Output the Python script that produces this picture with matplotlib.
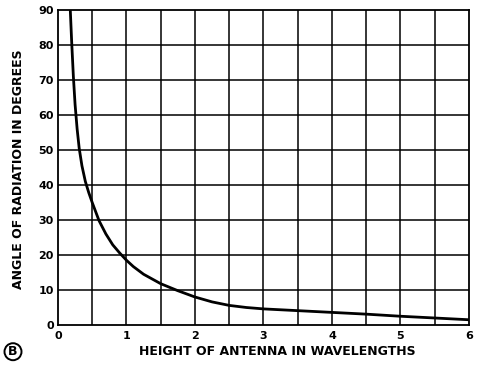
import matplotlib
matplotlib.use("Agg")
import matplotlib.pyplot as plt
from matplotlib.patches import Circle

# Data
height = [0.18, 0.20, 0.225, 0.25, 0.28, 0.31, 0.35, 0.40, 0.45, 0.5, 0.6, 0.7,
          0.8, 0.9, 1.0, 1.1, 1.25, 1.5, 1.75, 2.0, 2.25, 2.5, 2.75, 3.0, 3.5,
          4.0, 4.5, 5.0, 5.5, 6.0]
angle = [90, 81, 71, 63, 56, 50.5, 45.5, 41, 37.8, 35, 29.8, 26,
         22.9, 20.6, 18.5, 16.7, 14.5, 11.8, 9.8, 8.0, 6.6, 5.6, 5.0, 4.6, 4.1,
         3.6, 3.1, 2.5, 2.0, 1.5]
x_ticks = [0, 1, 2, 3, 4, 5, 6]
y_ticks = [0, 10, 20, 30, 40, 50, 60, 70, 80, 90]
x_label = "HEIGHT OF ANTENNA IN WAVELENGTHS"
y_label = "ANGLE OF RADIATION IN DEGREES"

fig = plt.figure(figsize=(4.79, 3.71), dpi=100)
ax = fig.add_axes([0.121, 0.124, 0.858, 0.849])

ax.set_xlim(0, 6)
ax.set_ylim(0, 90)

# grid lines every 0.5 in x and every 10 in y
for gx in [i * 0.5 for i in range(1, 12)]:
    ax.axvline(gx, color="black", lw=1.1, zorder=1)
for gy in range(10, 90, 10):
    ax.axhline(gy, color="black", lw=1.1, zorder=1)

ax.plot(height, angle, color="black", lw=2.0, zorder=3,
        solid_capstyle="butt", solid_joinstyle="round")

for s in ax.spines.values():
    s.set_linewidth(1.3)

ax.set_xticks(x_ticks)
ax.set_yticks(y_ticks)
ax.tick_params(length=0)
ax.tick_params(axis="x", pad=4)
ax.tick_params(axis="y", pad=3)
for lab in ax.get_xticklabels() + ax.get_yticklabels():
    lab.set_fontweight("bold")
    lab.set_fontsize(8)

fig.text(0.038, 0.545, y_label, rotation=90, ha="center", va="center",
         fontsize=9, fontweight="bold")
fig.text(0.578, 0.052, x_label, ha="center", va="center",
         fontsize=9, fontweight="bold")

# circled B
fig.text(0.027, 0.052, "B", ha="center", va="center", fontsize=9, fontweight="bold")
circ = Circle((13, 371 * 0.052), 8.5, transform=None, fill=False,
              edgecolor="black", lw=1.4)
fig.patches.append(circ)

fig.savefig("out.png", dpi=100)
